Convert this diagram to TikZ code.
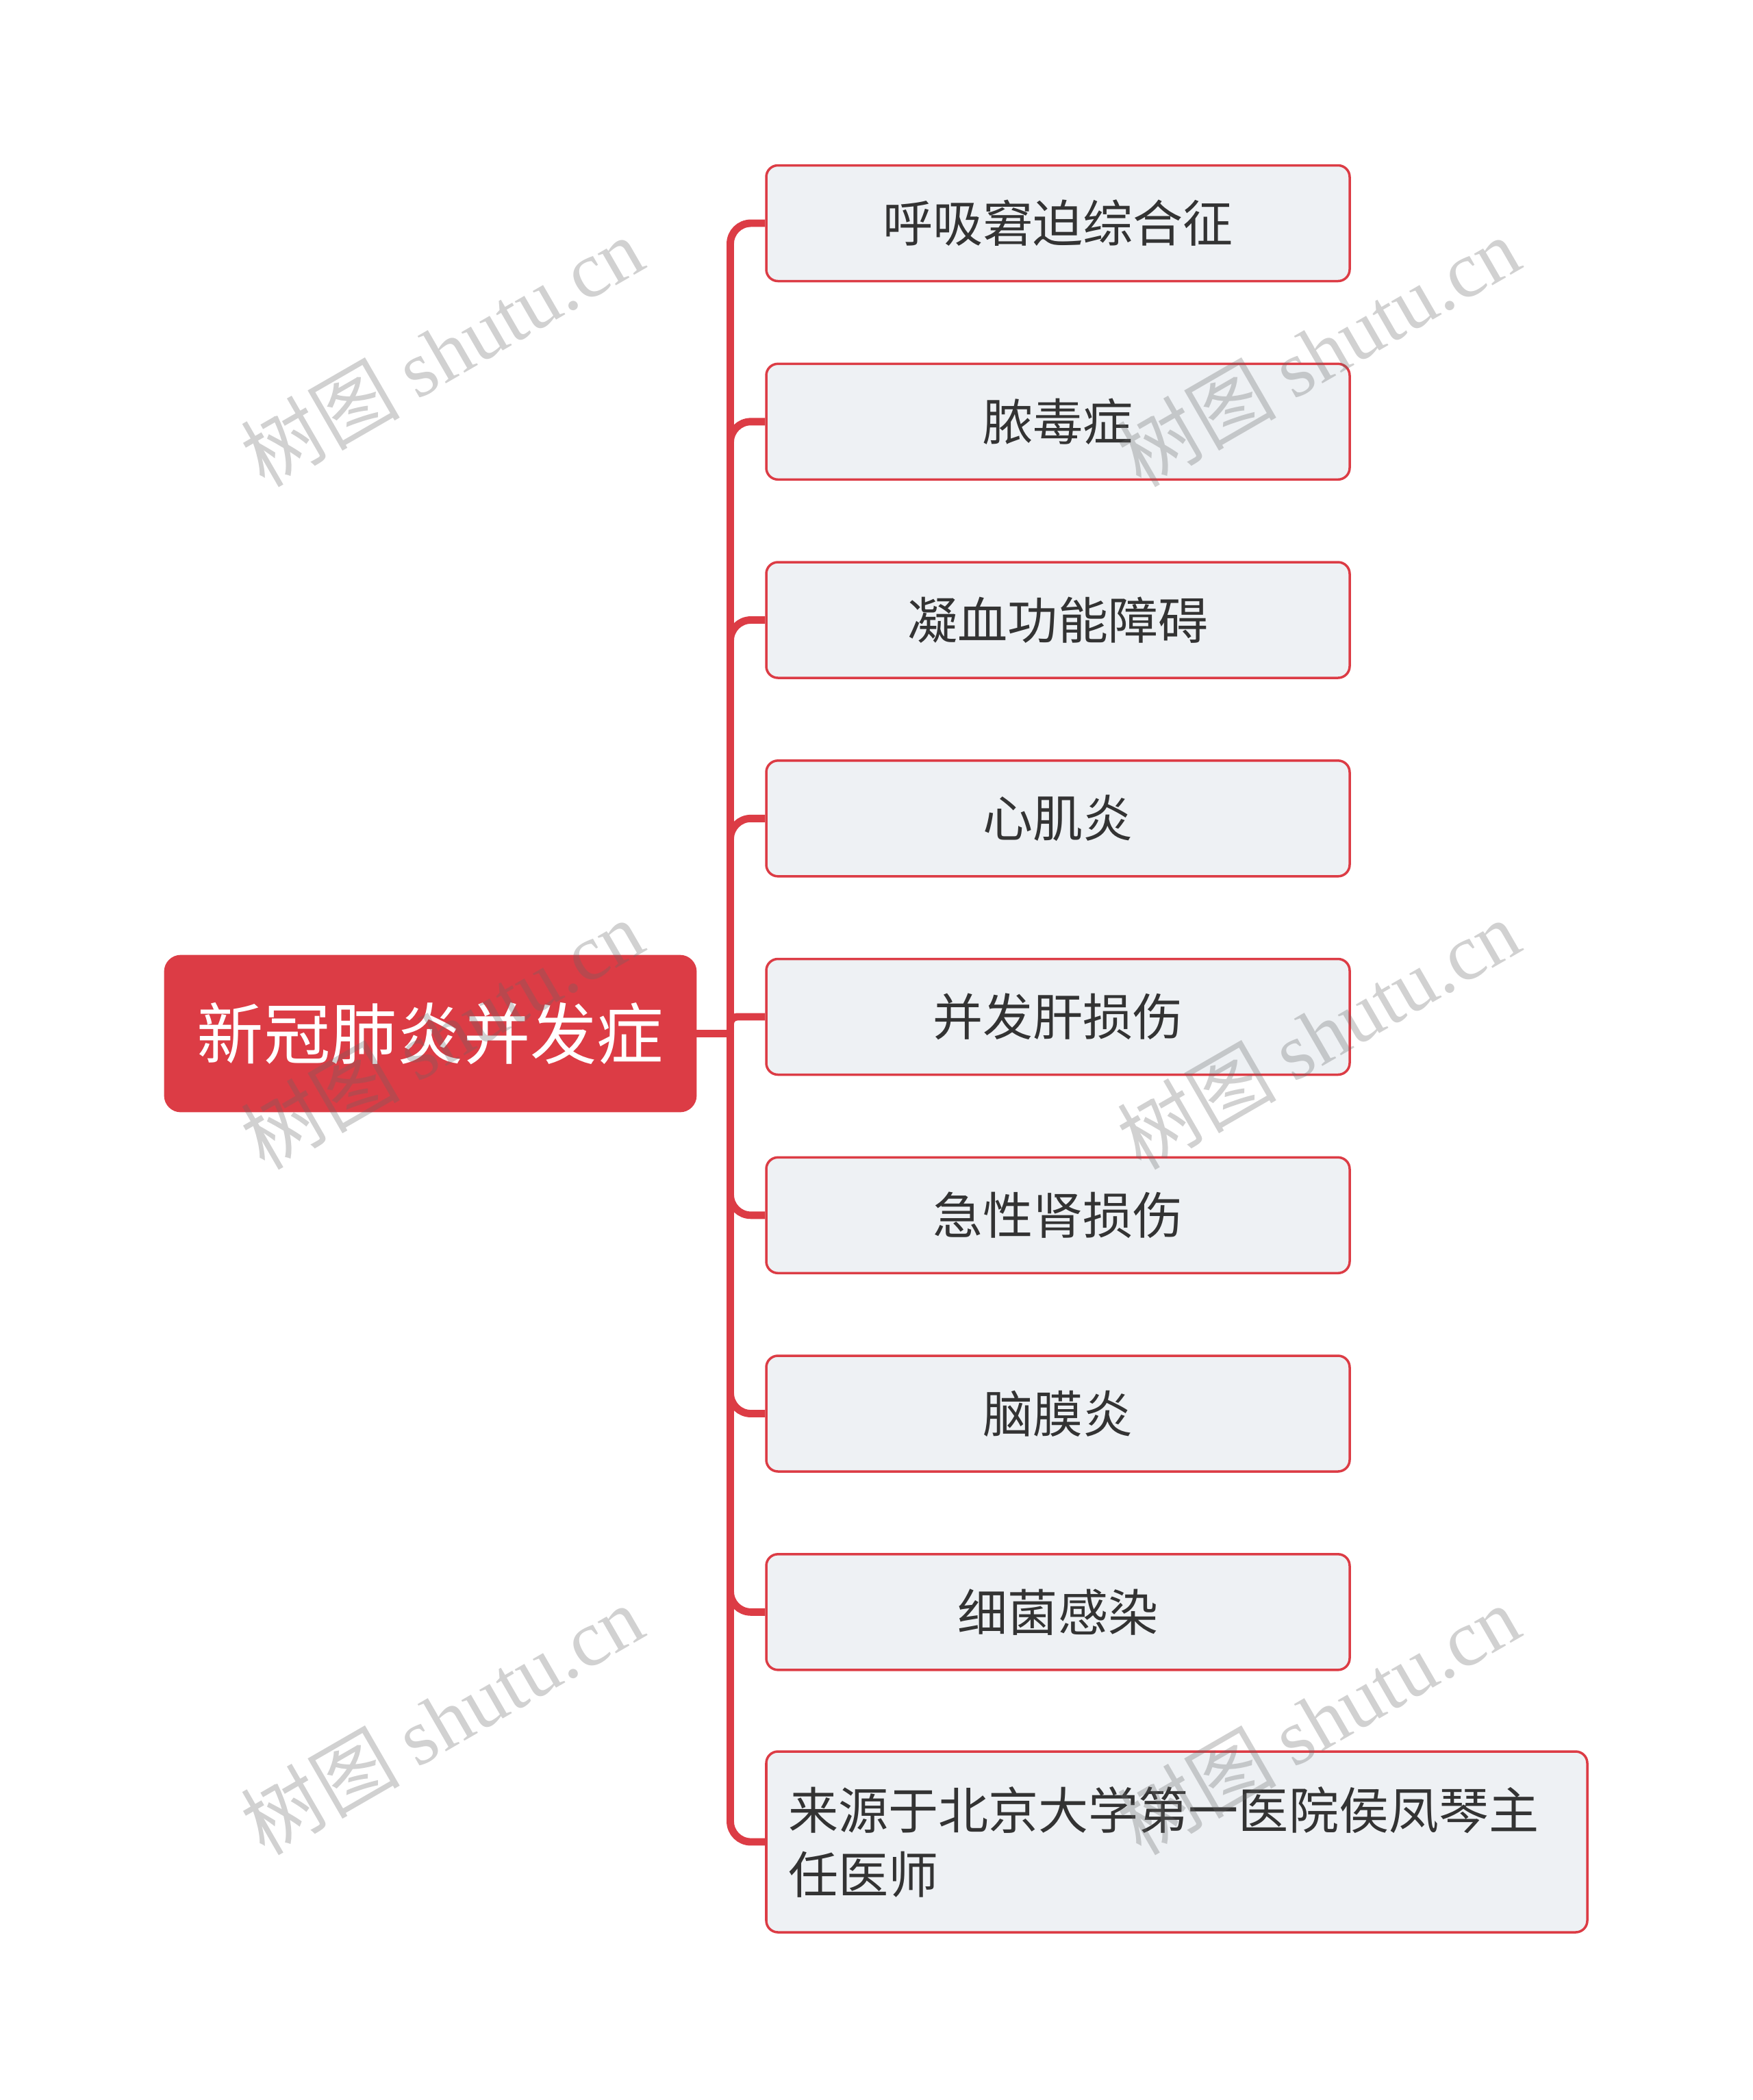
\documentclass[tikz,border=0pt]{standalone}
\usepackage{fontspec}
\newfontfamily\cjk{Noto Sans CJK SC}
\newfontfamily\wmserif{Liberation Serif}
\usepackage{tikz}
\usetikzlibrary{shapes}

\definecolor{mapred}{HTML}{DC3C45}
\definecolor{subfill}{HTML}{EEF1F4}
\definecolor{subtext}{HTML}{333333}

\tikzset{
  topic/.style={rectangle, rounded corners=0.23cm, fill=mapred, draw=mapred, line width=0.8pt,
    minimum width=7.75cm, minimum height=2.27cm, text=white,
    font=\cjk\fontsize{27.7}{34}\selectfont},
  sub/.style={rectangle, rounded corners=0.17cm, fill=subfill, draw=mapred, line width=1pt,
    minimum width=8.52cm, minimum height=1.69cm, text=subtext,
    font=\cjk\fontsize{20.8}{26.8}\selectfont},
  branch/.style={draw=mapred, line width=3.1pt, rounded corners=0.3cm},
  wmark/.style={rotate=30, text=black!60, opacity=0.3, font=\fontsize{33}{38}\selectfont}
}

\begin{document}
\begin{tikzpicture}
%      \draw [help lines, opacity=0.5] (0,0) grid (26,-31);
      \useasboundingbox (0,0) rectangle (25.6,-30.67);

      \node [topic] (root) at (6.285,-15.095) {新冠肺炎并发症};

      \node [sub] (ards) at (15.45,-3.26) {呼吸窘迫综合征};
      \node [sub] (sepsis) at (15.45,-6.158) {脓毒症};
      \node [sub] (coag) at (15.45,-9.055) {凝血功能障碍};
      \node [sub] (myo) at (15.45,-11.953) {心肌炎};
      \node [sub] (liver) at (15.45,-14.85) {并发肝损伤};
      \node [sub] (kidney) at (15.45,-17.748) {急性肾损伤};
      \node [sub] (mening) at (15.45,-20.645) {脑膜炎};
      \node [sub] (bact) at (15.45,-23.543) {细菌感染};
      \node [sub, minimum width=11.99cm, minimum height=2.64cm, text width=11.35cm,
        inner xsep=0.32cm, align=left] (source) at (17.185,-26.9)
        {来源于北京大学第一医院侯凤琴主\\任医师};

      % trunk and branches
      \coordinate (jn) at (10.665,-15.095);
      \draw [branch] (root.east) -- (jn);
      \draw [branch] (jn) |- (ards.west);
      \draw [branch] (jn) |- (sepsis.west);
      \draw [branch] (jn) |- (coag.west);
      \draw [branch] (jn) |- (myo.west);
      \draw [branch, rounded corners=0.1cm] (jn) |- (liver.west);
      \draw [branch] (jn) |- (kidney.west);
      \draw [branch] (jn) |- (mening.west);
      \draw [branch] (jn) |- (bact.west);
      \draw [branch] (jn) |- (source.west);

      % watermarks
      \node [wmark] (wm1) at (6.45,-5.13) {\cjk 树图 \wmserif shutu.cn};
      \node [wmark] (wm2) at (19.25,-5.13) {\cjk 树图 \wmserif shutu.cn};
      \node [wmark] (wm3) at (6.45,-15.1) {\cjk 树图 \wmserif shutu.cn};
      \node [wmark] (wm4) at (19.25,-15.1) {\cjk 树图 \wmserif shutu.cn};
      \node [wmark] (wm5) at (6.45,-25.11) {\cjk 树图 \wmserif shutu.cn};
      \node [wmark] (wm6) at (19.25,-25.11) {\cjk 树图 \wmserif shutu.cn};
\end{tikzpicture}
\end{document}
